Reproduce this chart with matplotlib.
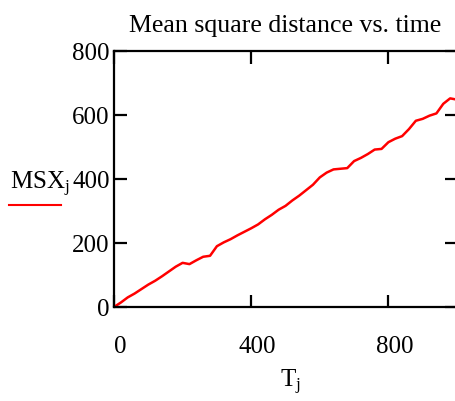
import matplotlib
matplotlib.use('Agg')
import matplotlib.pyplot as plt
import matplotlib.transforms as mtransforms

plt.rcParams['font.family'] = ['Liberation Serif', 'DejaVu Serif']
plt.rcParams['mathtext.fontset'] = 'custom'
plt.rcParams['mathtext.rm'] = 'Liberation Serif'
plt.rcParams['mathtext.it'] = 'Liberation Serif'

# time steps and mean square distance
T = [0, 20, 40, 60, 80, 100, 120, 140, 160, 180, 200, 220, 240, 260, 280, 300,
     320, 340, 360, 380, 400, 420, 440, 460, 480, 500, 520, 540, 560, 580, 600,
     620, 640, 660, 680, 700, 720, 740, 760, 780, 800, 820, 840, 860, 880, 900,
     920, 940, 960, 980, 1000]
MSX = [0, 14, 30, 42, 56, 70, 82, 96, 111, 126, 138, 134, 146, 157, 160, 190,
       202, 212, 224, 235, 246, 258, 274, 288, 304, 316, 333, 348, 365, 382, 405,
       420, 430, 432, 434, 456, 466, 478, 492, 494, 515, 526, 534, 556, 582, 588,
       598, 605, 635, 652, 648]
xticks = [0, 400, 800]
yticks = [0, 200, 400, 600, 800]

fig = plt.figure(figsize=(4.56, 4.02), dpi=100)
ax = fig.add_axes([114/456, 94/402, 343/456, 256/402])
ax.plot(T, MSX, color='red', lw=1.8)
ax.set_xlim(0, 1000)
ax.set_ylim(0, 800)
ax.set_xticks(xticks)
ax.set_yticks(yticks)
for s in ax.spines.values():
    s.set_linewidth(1.6)
ax.tick_params(direction='in', length=9, width=1.6, top=True, right=True,
               labelsize=18)
ax.tick_params(axis='x', pad=20)
ax.tick_params(axis='y', pad=3)
shift = mtransforms.ScaledTranslation(6/100, 0, fig.dpi_scale_trans)
for lab in ax.get_xticklabels():
    lab.set_transform(lab.get_transform() + shift)

fig.text(285/456, 1 - 26/402, 'Mean square distance vs. time', ha='center',
         va='center', fontsize=18.6)
fig.text(290/456, 1 - 382/402, r'T$_{\mathrm{j}}$', ha='center', va='center',
         fontsize=18)
fig.text(40/456, 1 - 184/402, r'MSX$_{\mathrm{j}}$', ha='center', va='center',
         fontsize=18)
fig.add_artist(plt.Line2D([9/456, 61/456], [1 - 206/402, 1 - 206/402],
                          color='red', lw=1.5))

fig.savefig('out.png', dpi=100)
